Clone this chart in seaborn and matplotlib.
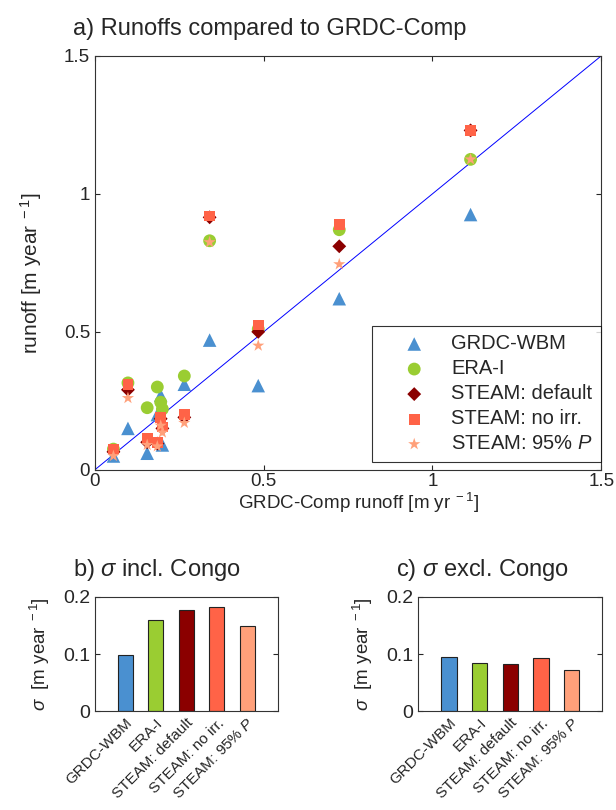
import numpy as np
import pandas as pd
import matplotlib
matplotlib.use("Agg")
import matplotlib.pyplot as plt
import seaborn as sns

# GRDC-Comp runoff per basin (x) and the compared runoffs (y), m/yr
grdc_comp = [0.055, 0.098, 0.155, 0.185, 0.195, 0.20, 0.265, 0.34, 0.484, 0.724, 1.113]
grdc_wbm = [0.05, 0.15, 0.06, 0.20, 0.27, 0.09, 0.31, 0.47, 0.305, 0.62, 0.925]
era_i = [0.075, 0.315, 0.225, 0.30, 0.245, 0.22, 0.34, 0.83, 0.51, 0.87, 1.125]
steam_default = [0.065, 0.29, 0.10, 0.095, 0.185, 0.15, 0.19, 0.915, 0.50, 0.81, 1.23]
steam_noirr = [0.075, 0.31, 0.115, 0.10, 0.19, 0.155, 0.20, 0.92, 0.525, 0.89, 1.23]
steam_p95 = [0.05, 0.26, 0.09, 0.085, 0.16, 0.135, 0.17, 0.825, 0.45, 0.745, 1.125]

names = ["GRDC-WBM", "ERA-I", "STEAM: default", "STEAM: no irr.", "STEAM: 95% $P$"]
colors = ["#4a90d0", "#9acd32", "#8b0000", "#ff6347", "#ffa07a"]
markers = ["^", "o", "D", "s", "*"]
sizes = [95, 85, 50, 60, 85]

# standard deviation of differences
sigma_incl = [0.098, 0.160, 0.178, 0.183, 0.150]
sigma_excl = [0.095, 0.085, 0.082, 0.093, 0.072]

sns.set_style("ticks")
plt.rcParams["font.family"] = ["Liberation Sans", "DejaVu Sans"]
plt.rcParams.update({
    "mathtext.fontset": "custom",
    "mathtext.rm": "Liberation Sans",
    "mathtext.it": "Liberation Sans:italic",
    "xtick.direction": "in", "ytick.direction": "in",
    "xtick.top": True, "ytick.right": True,
    "axes.edgecolor": "#333333", "axes.linewidth": 0.8,
    "font.size": 11,
})

fig = plt.figure(figsize=(6.16, 8.10), dpi=100)

# a) scatter
ax = fig.add_axes([0.154, 0.420, 0.822, 0.511])
series = [grdc_wbm, era_i, steam_default, steam_noirr, steam_p95]
for vals, name, c, m, s in zip(series, names, colors, markers, sizes):
    df = pd.DataFrame({"x": grdc_comp, "y": vals})
    sns.scatterplot(data=df, x="x", y="y", ax=ax, color=c, marker=m, s=s,
                    edgecolor="none", label=name, zorder=3)
ax.plot([0, 1.5], [0, 1.5], color="blue", lw=0.7, zorder=2)
ax.set_xlim(0, 1.5)
ax.set_ylim(0, 1.5)
ax.set_xticks([0, 0.5, 1, 1.5])
ax.set_yticks([0, 0.5, 1, 1.5])
ax.set_xticklabels(["0", "0.5", "1", "1.5"], fontsize=13.5)
ax.set_yticklabels(["0", "0.5", "1", "1.5"], fontsize=13.5)
ax.tick_params(axis="x", pad=2)
ax.set_xlabel("GRDC-Comp runoff [m yr$^{\\ -1}$]", fontsize=13.5)
ax.xaxis.set_label_coords(0.52, -0.052)
ax.set_ylabel("runoff [m year$^{\\ -1}$]", fontsize=15)
ax.yaxis.set_label_coords(-0.10, 0.475)
ax.set_title("a) Runoffs compared to GRDC-Comp", fontsize=17, pad=15,
             loc="left", x=-0.043)
leg = ax.legend(loc="lower right", bbox_to_anchor=(1.0, 0.02), fontsize=14.5,
                frameon=True, fancybox=False, edgecolor="black",
                borderaxespad=0, handletextpad=0.15, borderpad=0.4,
                labelspacing=0.3, handlelength=3.4)
leg.get_frame().set_linewidth(0.8)

# b) and c) bars
labels_bar = ["GRDC-WBM", "ERA-I", "STEAM: default", "STEAM: no irr.", "STEAM: 95% $P$"]
panels = [([0.154, 0.122, 0.297, 0.141], sigma_incl, "b) $\\sigma$ incl. Congo"),
          ([0.679, 0.122, 0.299, 0.141], sigma_excl, "c) $\\sigma$ excl. Congo")]
for pos, vals, title in panels:
    bx = fig.add_axes(pos)
    bdf = pd.DataFrame({"name": labels_bar, "sigma": vals})
    sns.barplot(data=bdf, x="name", y="sigma", hue="name", palette=colors,
                legend=False, width=0.5, edgecolor="#222222", linewidth=0.8,
                saturation=1, ax=bx)
    bx.set_xlim(-1, 5)
    bx.set_ylim(0, 0.2)
    bx.set_yticks([0, 0.1, 0.2])
    bx.set_yticklabels(["0", "0.1", "0.2"], fontsize=14)
    bx.tick_params(axis="x", length=0)
    bx.set_xticks(range(5))
    bx.set_xticklabels(labels_bar, rotation=45, ha="right",
                       rotation_mode="anchor", fontsize=11)
    bx.set_xlabel("")
    bx.set_ylabel("$\\sigma$  [m year$^{\\ -1}$]", fontsize=13.5, labelpad=8)
    bx.set_title(title, fontsize=17, pad=15, loc="left", x=-0.12)

fig.savefig("out.png", dpi=100)
